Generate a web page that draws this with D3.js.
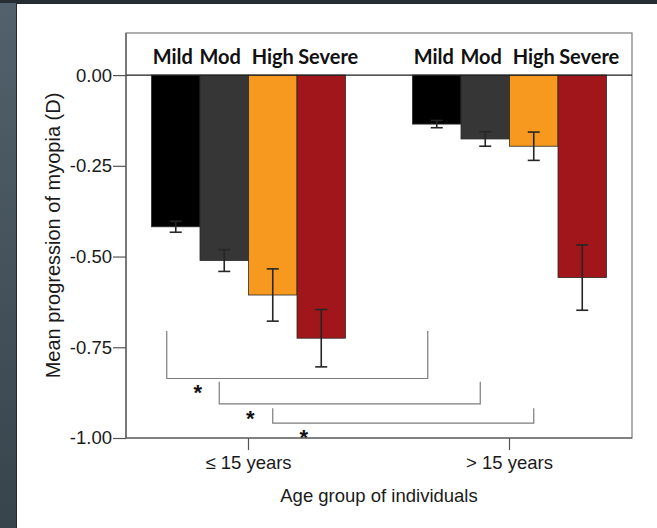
<!DOCTYPE html>
<html>
<head>
<meta charset="utf-8">
<script src="https://cdn.jsdelivr.net/npm/d3@7/dist/d3.min.js"></script>
<style>
    body { margin: 0; background: #ffffff; }
    svg { display: block; }
</style>
</head>
<body>
<svg id="chart"></svg>
<script>
// age groups on the x axis and severity classes inside each group
var ageGroups = ["≤ 15 years", "> 15 years"];
var severities = ["Mild", "Mod", "High", "Severe"];
var barColors = ["#000000", "#363636", "#f7991e", "#a1161b"];

// mean progression (D) and error half-width per severity
var meanYoung = [-0.418, -0.511, -0.606, -0.725];
var errYoung = [0.015, 0.030, 0.072, 0.079];
var meanOld = [-0.135, -0.176, -0.196, -0.558];
var errOld = [0.010, 0.020, 0.039, 0.090];

var yTicks = [0, -0.25, -0.5, -0.75, -1];

// significance brackets: same severity, young vs old
var bracketSeverity = ["Mild", "Mod", "High"];
var bracketTop = [-0.705, -0.845, -0.918];
var bracketBottom = [-0.836, -0.906, -0.959];

var width = 657, height = 528;
var svg = d3.select("#chart").attr("width", width).attr("height", height);

// slide background
var grad = svg.append("defs").append("linearGradient")
    .attr("id", "slate").attr("x1", 0).attr("y1", 0).attr("x2", 0).attr("y2", 1);
grad.append("stop").attr("offset", "0%").attr("stop-color", "#52616b");
grad.append("stop").attr("offset", "100%").attr("stop-color", "#38444c");
svg.append("rect").attr("width", width).attr("height", height).attr("fill", "url(#slate)");
svg.append("rect").attr("x", 0).attr("y", 0).attr("width", width).attr("height", 3).attr("fill", "#262d32");
svg.append("rect").attr("x", 16).attr("y", 3).attr("width", width - 16).attr("height", height - 3).attr("fill", "#23292d");
svg.append("rect").attr("x", 17).attr("y", 4).attr("width", width - 17).attr("height", height - 4).attr("fill", "#ffffff");

var plot = {left: 126, right: 632, top: 33, bottom: 438};

var x0 = d3.scaleBand().domain(ageGroups)
    .range([plot.left, plot.right])
    .paddingInner(0.2567)
    .paddingOuter(0.0977);
var x1 = d3.scaleBand().domain(severities).range([0, x0.bandwidth()]);
var y = d3.scaleLinear().domain([-1, 0.116]).range([plot.bottom, plot.top]);

var rows = [];
ageGroups.forEach(function (g, gi) {
    severities.forEach(function (s, si) {
        rows.push({
            group: g,
            severity: s,
            si: si,
            color: barColors[si],
            mean: gi === 0 ? meanYoung[si] : meanOld[si],
            err: gi === 0 ? errYoung[si] : errOld[si]
        });
    });
});

function cx(d) { return x0(d.group) + x1(d.severity) + x1.bandwidth() / 2; }

var sans = "'Liberation Sans', Arial, sans-serif";

// frame
svg.append("rect")
    .attr("x", plot.left).attr("y", plot.top)
    .attr("width", plot.right - plot.left).attr("height", plot.bottom - plot.top)
    .attr("fill", "none").attr("stroke", "#7a7a7a").attr("stroke-width", 1.2);

// bars
svg.append("g").selectAll("rect")
    .data(rows)
    .enter().append("rect")
    .attr("x", function (d) { return x0(d.group) + x1(d.severity); })
    .attr("y", y(0))
    .attr("width", x1.bandwidth())
    .attr("height", function (d) { return y(d.mean) - y(0); })
    .attr("fill", function (d) { return d.color; })
    .attr("stroke", "#2a2a2a")
    .attr("stroke-width", 0.8);

// error bars
var eb = svg.append("g").attr("stroke", "#262626").attr("stroke-width", 1.6);
eb.selectAll("line.stem")
    .data(rows).enter().append("line").attr("class", "stem")
    .attr("x1", cx).attr("x2", cx)
    .attr("y1", function (d) { return y(d.mean + d.err); })
    .attr("y2", function (d) { return y(d.mean - d.err); });
[1, -1].forEach(function (sign) {
    eb.selectAll("line.cap" + sign)
        .data(rows).enter().append("line")
        .attr("x1", function (d) { return cx(d) - 6; })
        .attr("x2", function (d) { return cx(d) + 6; })
        .attr("y1", function (d) { return y(d.mean + sign * d.err); })
        .attr("y2", function (d) { return y(d.mean + sign * d.err); });
});

// zero reference line
svg.append("line")
    .attr("x1", plot.left).attr("x2", plot.right)
    .attr("y1", y(0)).attr("y2", y(0))
    .attr("stroke", "#1e1e1e").attr("stroke-width", 1.3);

// severity labels above bars (nudged apart like the original)
var labelNudge = [-3, -4, 0, 7];
svg.append("g").selectAll("text")
    .data(rows).enter().append("text")
    .attr("x", function (d) { return cx(d) + labelNudge[d.si]; })
    .attr("y", 64)
    .attr("text-anchor", "middle")
    .style("font-family", "Lato, 'Open Sans', sans-serif")
    .style("font-weight", "700")
    .style("font-size", "20px")
    .style("fill", "#111")
    .text(function (d) { return d.severity; });

// significance brackets
var shift = [-9, -5, 0];
var br = svg.append("g");
bracketSeverity.forEach(function (s, i) {
    var xa = x0(ageGroups[0]) + x1(s) + x1.bandwidth() / 2 + shift[i];
    var xb = x0(ageGroups[1]) + x1(s) + x1.bandwidth() / 2 + shift[i];
    var yt = y(bracketTop[i]), yb = y(bracketBottom[i]);
    br.append("path")
        .attr("d", "M" + xa + "," + yt + "V" + yb + "H" + xb + "V" + yt)
        .attr("fill", "none").attr("stroke", "#7c7c7c").attr("stroke-width", 1.2);
    br.append("text")
        .attr("x", xa + 31)
        .attr("y", yb + 22)
        .attr("text-anchor", "middle")
        .style("font-family", sans)
        .style("font-weight", "700")
        .style("font-size", "22px")
        .style("fill", "#111")
        .text("*");
});

// y axis
var fmt = d3.format(".2f");
var yAxis = svg.append("g")
    .attr("transform", "translate(" + plot.left + ",0)")
    .call(d3.axisLeft(y).tickValues(yTicks).tickSize(13).tickPadding(1)
        .tickFormat(function (d) { return fmt(d).replace("−", "-"); }));
yAxis.select(".domain").attr("stroke", "#555").attr("stroke-width", 1.2)
    .attr("d", "M0," + plot.top + "V" + plot.bottom);
yAxis.selectAll(".tick line").attr("stroke", "#555").attr("stroke-width", 1.2);
yAxis.selectAll(".tick text")
    .style("font-family", sans)
    .style("font-size", "18.5px")
    .style("fill", "#1a1a1a");

// x axis
var xAxis = svg.append("g")
    .attr("transform", "translate(0," + plot.bottom + ")")
    .call(d3.axisBottom(x0).tickSize(12).tickPadding(6));
xAxis.select(".domain").attr("stroke", "#555").attr("stroke-width", 1.2)
    .attr("d", "M" + plot.left + ",0H" + plot.right);
xAxis.selectAll(".tick line").attr("stroke", "#555").attr("stroke-width", 1.2);
xAxis.selectAll(".tick text")
    .style("font-family", sans)
    .style("font-size", "18.5px")
    .style("fill", "#1a1a1a");

// axis titles
svg.append("text")
    .attr("x", (plot.left + plot.right) / 2)
    .attr("y", 502)
    .attr("text-anchor", "middle")
    .style("font-family", sans)
    .style("font-size", "18.5px")
    .style("fill", "#1a1a1a")
    .text("Age group of individuals");

svg.append("text")
    .attr("transform", "translate(60," + (plot.top + plot.bottom) / 2 + ") rotate(-90)")
    .attr("text-anchor", "middle")
    .style("font-family", sans)
    .style("font-size", "20px")
    .style("fill", "#1a1a1a")
    .text("Mean progression of myopia (D)");
</script>
</body>
</html>
